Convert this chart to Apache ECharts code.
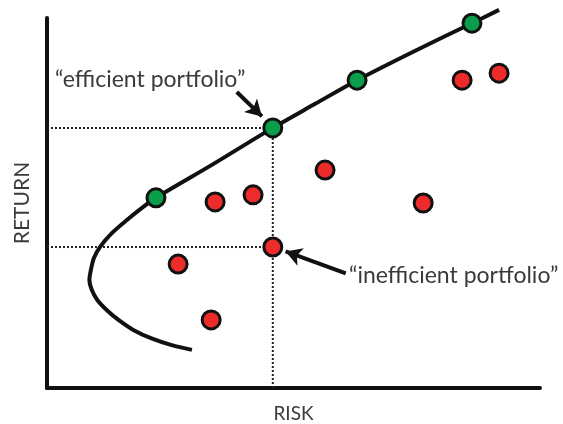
<!doctype html>
<html>
<head>
<meta charset="utf-8">
<title>Efficient frontier</title>
<script src="https://cdn.jsdelivr.net/npm/echarts@6/dist/echarts.min.js"></script>
<style>
html,body{margin:0;padding:0;background:#fff;}
#chart{width:563px;height:424px;}
</style>
</head>
<body>
<div id="chart"></div>
<script>
// frontier curve (risk, return), bottom end to top end
var frontierRisk   = [29.4, 25.3, 21.2, 17.5, 14.5, 12.1, 10.2, 9.1, 8.6, 8.9, 9.5, 10.8, 13.1, 16.2, 19.2, 22.1, 33.7, 45.8, 54.4, 62.9, 74.6, 86.2, 91.7];
var frontierReturn = [10.3, 11.6, 13.4, 15.7, 18.4, 21.1, 23.8, 26.5, 29.2, 31.9, 35.1, 38.2, 41.8, 45.4, 48.6, 51.4, 60.5, 70.3, 76.8, 83.2, 91.1, 98.6, 102.2];
// portfolios on the frontier (green)
var efficientRisk   = [22.1, 45.8, 62.9, 86.2];
var efficientReturn = [51.4, 70.3, 83.2, 98.6];
// portfolios below the frontier (red)
var inefficientRisk   = [34.1, 41.8, 56.4, 76.3, 84.2, 91.7, 45.8, 26.6, 33.3];
var inefficientReturn = [50.3, 52.2, 58.9, 50.0, 83.2, 85.1, 38.1, 33.5, 18.4];
// the two highlighted portfolios
var highlightEfficient = [45.8, 70.3];
var highlightInefficient = [45.8, 38.1];
var labels = ['\u201cefficient portfolio\u201d', '\u201cinefficient portfolio\u201d'];

function zip(a, b) {
    var out = [];
    for (var i = 0; i < a.length; i++) out.push([a[i], b[i]]);
    return out;
}

var chart = echarts.init(document.getElementById('chart'));
var font = 'Lato';
var textColor = '#3a3a3a';

var dotted = {color: '#222', width: 2, type: [2, 2]};

var option = {
    animation: false,
    grid: {left: 47, top: 18, width: 493, height: 370, outerBoundsMode: 'none', containLabel: false},
    xAxis: {
        type: 'value', min: 0, max: 100,
        name: 'RISK', nameLocation: 'middle', nameGap: 16,
        nameTextStyle: {color: textColor, fontSize: 19, fontFamily: font},
        axisLine: {show: true, lineStyle: {color: '#111', width: 4}},
        axisTick: {show: false}, axisLabel: {show: false}, splitLine: {show: false}
    },
    yAxis: {
        type: 'value', min: 0, max: 100,
        name: 'RETURN', nameLocation: 'middle', nameGap: 14,
        nameTextStyle: {color: textColor, fontSize: 21, fontFamily: font},
        axisLine: {show: true, lineStyle: {color: '#111', width: 4}},
        axisTick: {show: false}, axisLabel: {show: false}, splitLine: {show: false}
    },
    series: [
        {   // dotted guide to the efficient portfolio
            type: 'line', symbol: 'none', silent: true, z: 1,
            data: [[0, highlightEfficient[1]], highlightEfficient, [highlightEfficient[0], 0]],
            lineStyle: dotted
        },
        {   // dotted guide to the inefficient portfolio
            type: 'line', symbol: 'none', silent: true, z: 1,
            data: [[0, highlightInefficient[1]], highlightInefficient],
            lineStyle: dotted
        },
        {   // frontier
            type: 'line', symbol: 'none', smooth: 0.3, clip: false, z: 2,
            data: zip(frontierRisk, frontierReturn),
            lineStyle: {color: '#111', width: 4},
            markLine: {
                silent: true, symbol: ['none', 'arrow'], symbolSize: [14, 16],
                label: {show: false},
                lineStyle: {color: '#111', width: 4, type: 'solid'},
                data: [
                    [{coord: [38.5, 80.0]}, {coord: [43.6, 73.4]}],
                    [{coord: [60.6, 31.0]}, {coord: [48.4, 36.9]}]
                ]
            }
        },
        {
            type: 'scatter', symbol: 'circle', symbolSize: 18, z: 3,
            data: zip(efficientRisk, efficientReturn),
            itemStyle: {color: '#0a9e4a', borderColor: '#111', borderWidth: 3, opacity: 1}
        },
        {
            type: 'scatter', symbol: 'circle', symbolSize: 18, z: 3,
            data: zip(inefficientRisk, inefficientReturn),
            itemStyle: {color: '#ee2b2b', borderColor: '#111', borderWidth: 3, opacity: 1}
        }
    ],
    graphic: [
        {type: 'text', x: 55, y: 80,
         style: {text: labels[0], fill: textColor, font: '23px ' + font, verticalAlign: 'middle'}},
        {type: 'text', x: 349, y: 276,
         style: {text: labels[1], fill: textColor, font: '23px ' + font, verticalAlign: 'middle'}}
    ]
};
chart.setOption(option);
</script>
</body>
</html>
